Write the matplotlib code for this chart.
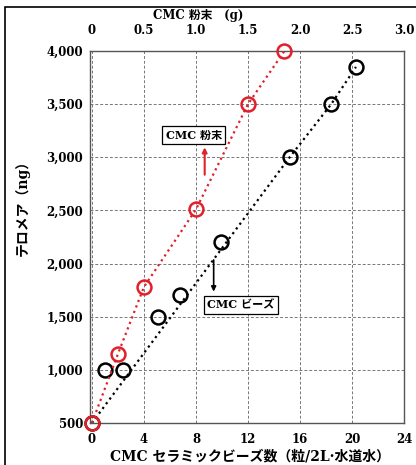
import matplotlib
matplotlib.use('Agg')
import matplotlib.pyplot as plt
from matplotlib.patches import Rectangle

plt.rcParams['font.family'] = ['DejaVu Serif', 'Noto Sans CJK JP']

# CMC ceramic beads (bottom axis, beads / 2L tap water)
bead_x = [0, 1.0, 2.4, 5.1, 6.8, 9.9, 15.2, 18.4, 20.3]
bead_y = [500, 1000, 1000, 1500, 1700, 2200, 3000, 3500, 3850]
# dotted guide line for the beads
bead_line_x = [0, 15.2, 18.4, 20.3]
bead_line_y = [500, 3000, 3500, 3850]

# CMC powder (top axis, g)
powder_x = [0, 0.25, 0.5, 1.0, 1.5, 1.85]
powder_y = [500, 1150, 1780, 2510, 3500, 4000]

bead_ticks = [0, 4, 8, 12, 16, 20, 24]
gram_ticks = [0, 0.5, 1.0, 1.5, 2.0, 2.5, 3.0]
gram_labels = ['0', '0.5', '1.0', '1.5', '2.0', '2.5', '3.0']
y_ticks = [500, 1000, 1500, 2000, 2500, 3000, 3500, 4000]

red = '#e0202a'

fig = plt.figure(figsize=(4.16, 4.65), dpi=100)
ax = fig.add_axes([0.2163, 0.0903, 0.755, 0.80])

# outer frame (only left/top visible in the picture)
fig.patches.append(Rectangle((5 / 416, -0.1), 1.2, 1 - 7 / 465 + 0.1,
                             transform=fig.transFigure, fill=False,
                             edgecolor='black', linewidth=1.2))

ax.set_xlim(-0.15, 24)
ax.set_ylim(500, 4000)
ax.set_xticks(bead_ticks)
ax.set_yticks(y_ticks)
ax.set_yticklabels([f'{v:,}' for v in y_ticks])
ax.grid(True, color='#777777', linestyle=(0, (3, 2)), linewidth=0.7)
ax.tick_params(axis='y', labelsize=8.5, length=0, pad=5)
ax.tick_params(axis='x', labelsize=8.5, length=0, pad=7)
for lab in ax.get_xticklabels() + ax.get_yticklabels():
    lab.set_fontweight('bold')
for s in ax.spines.values():
    s.set_color('#555555')
    s.set_linewidth(1.0)

ax.plot(bead_line_x, bead_line_y, color='black', linestyle=':', linewidth=1.6)
ax.plot(bead_x, bead_y, linestyle='none', marker='o', markersize=10,
        markerfacecolor='none', markeredgecolor='black', markeredgewidth=1.8,
        clip_on=False, zorder=5)

top = ax.twiny()
top.set_xlim(-0.15 / 8, 3.0)
top.set_xticks(gram_ticks)
top.set_xticklabels(gram_labels)
top.tick_params(labelsize=8.5, length=0, pad=10)
for lab in top.get_xticklabels():
    lab.set_fontweight('bold')
for s in top.spines.values():
    s.set_visible(False)

top.plot(powder_x, powder_y, color=red, linestyle=':', linewidth=1.6)
top.plot(powder_x, powder_y, linestyle='none', marker='o', markersize=10,
         markerfacecolor='none', markeredgecolor=red, markeredgewidth=1.8,
         clip_on=False, zorder=5)

# annotation boxes with arrows
ax.annotate('', xy=(8.67, 3120), xytext=(8.67, 2810),
            arrowprops=dict(arrowstyle='-|>', color=red, lw=1.5,
                            mutation_scale=7))
ax.text(7.82, 3208, 'CMC 粉末', fontsize=8, fontweight='bold',
        ha='center', va='center',
        bbox=dict(boxstyle='square,pad=0.3', facecolor='white',
                  edgecolor='black', linewidth=0.9))
ax.annotate('', xy=(9.36, 1710), xytext=(9.36, 2060),
            arrowprops=dict(arrowstyle='-|>', color='black', lw=1.2,
                            mutation_scale=7))
ax.text(11.43, 1613, 'CMC ビーズ', fontsize=8, fontweight='bold',
        ha='center', va='center',
        bbox=dict(boxstyle='square,pad=0.3', facecolor='white',
                  edgecolor='black', linewidth=0.9))

fig.text(250 / 416, 1 - 456 / 465, 'CMC セラミックビーズ数（粒/2L·水道水）',
         fontsize=10, fontweight='bold', ha='center', va='center')
fig.text(198 / 416, 1 - 15 / 465, 'CMC 粉末　(g)',
         fontsize=8.5, fontweight='bold', ha='center', va='center')
fig.text(22 / 416, 1 - 204 / 465, 'テロメア（ng）', rotation=90,
         fontsize=10, fontweight='bold', ha='center', va='center')

fig.savefig('out.png', dpi=100)
